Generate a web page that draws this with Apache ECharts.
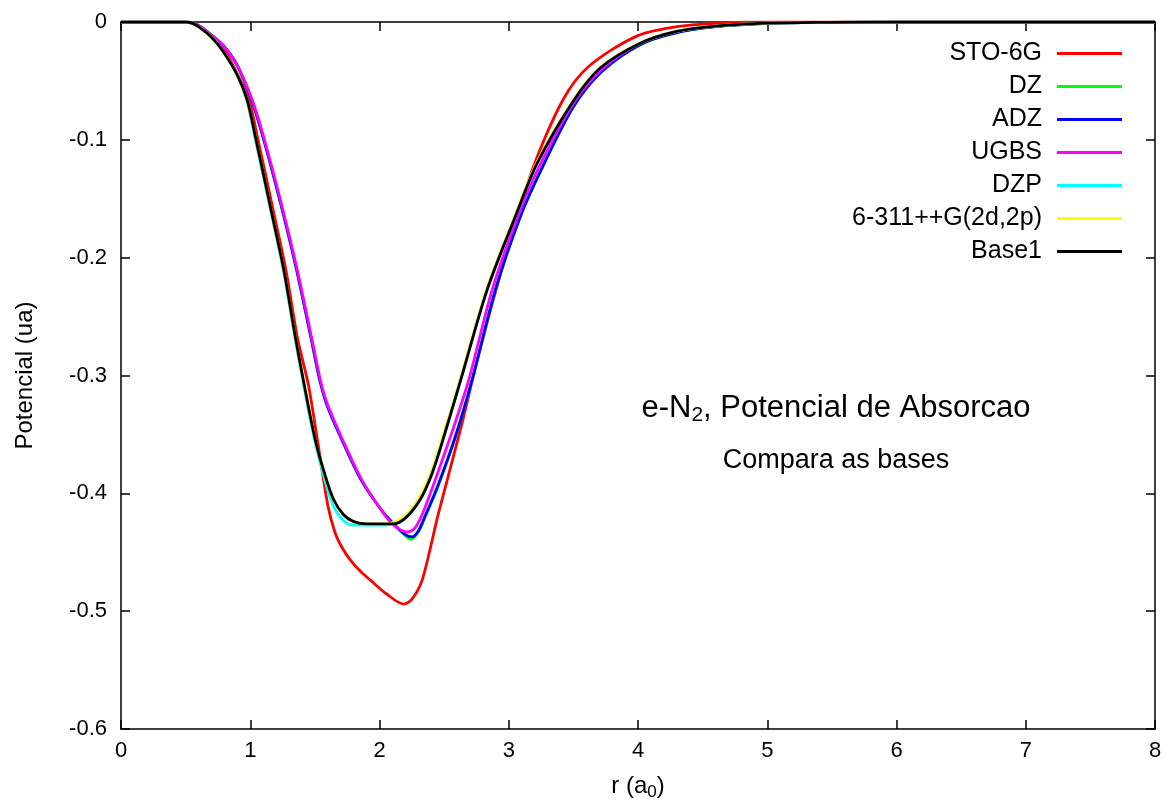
<!DOCTYPE html>
<html>
<head>
<meta charset="utf-8">
<script src="https://cdn.jsdelivr.net/npm/echarts@6/dist/echarts.min.js"></script>
<style>
html,body{margin:0;padding:0;background:#fff;}
#chart{width:1165px;height:803px;}
</style>
</head>
<body>
<div id="chart"></div>
<script>
// ---- data (r in a0, potential in ua) ----
const seriesNames = ['STO-6G', 'DZ', 'ADZ', 'UGBS', 'DZP', '6-311++G(2d,2p)', 'Base1'];
const seriesColors = ['#ff0000', '#00ff00', '#0000ff', '#ff00ff', '#00ffff', '#ffff00', '#000000'];

const xTicks = [0, 1, 2, 3, 4, 5, 6, 7, 8];
const yTicks = [0, -0.1, -0.2, -0.3, -0.4, -0.5, -0.6];

const rSTO = [0, 0.3, 0.5, 0.55, 0.6, 0.7, 0.8, 0.9, 0.99, 1.06, 1.172, 1.275, 1.365, 1.45, 1.52, 1.6, 1.655, 1.71, 1.775, 1.85, 1.93, 2.05, 2.187, 2.25, 2.33, 2.456, 2.626, 2.75, 2.9, 3.05, 3.19, 3.42, 3.616, 3.99, 4.3, 4.6, 5.0, 8.0];
const vSTO = [0, 0, 0, -0.001, -0.003, -0.012, -0.024, -0.044, -0.066, -0.1, -0.157, -0.21, -0.268, -0.308, -0.355, -0.41, -0.433, -0.446, -0.4567, -0.466, -0.4737, -0.485, -0.494, -0.49, -0.4737, -0.417, -0.346, -0.29, -0.228, -0.172, -0.123, -0.066, -0.038, -0.012, -0.004, -0.0012, 0, 0];

const rDZ = [0, 0.3, 0.5, 0.55, 0.6, 0.7, 0.8, 0.9, 1.01, 1.105, 1.242, 1.358, 1.474, 1.538, 1.6, 1.732, 1.86, 2.0, 2.1, 2.2, 2.245, 2.3, 2.35, 2.45, 2.587, 2.716, 2.896, 3.09, 3.244, 3.5, 3.72, 4.02, 4.3, 4.6, 5.0, 5.5, 6.0, 8.0];
const vDZ = [0, 0, 0, -0.001, -0.003, -0.011, -0.021, -0.037, -0.066, -0.1, -0.157, -0.21, -0.27, -0.304, -0.327, -0.36, -0.389, -0.412, -0.425, -0.436, -0.439, -0.433, -0.421, -0.395, -0.352, -0.304, -0.2275, -0.165, -0.127, -0.072, -0.042, -0.019, -0.009, -0.004, -0.0012, -0.0003, 0, 0];

const rADZ = [0, 0.3, 0.5, 0.55, 0.6, 0.7, 0.8, 0.9, 1.01, 1.105, 1.242, 1.358, 1.474, 1.538, 1.6, 1.732, 1.86, 2.0, 2.1, 2.2, 2.252, 2.3, 2.35, 2.45, 2.587, 2.716, 2.896, 3.09, 3.244, 3.5, 3.72, 4.02, 4.3, 4.6, 5.0, 5.5, 6.0, 8.0];
const vADZ = [0, 0, 0, -0.001, -0.003, -0.011, -0.021, -0.037, -0.066, -0.1, -0.157, -0.21, -0.27, -0.304, -0.327, -0.36, -0.389, -0.412, -0.425, -0.435, -0.437, -0.432, -0.42, -0.394, -0.352, -0.304, -0.2275, -0.165, -0.127, -0.072, -0.042, -0.019, -0.009, -0.004, -0.0012, -0.0003, 0, 0];

const rUGBS = [0, 0.3, 0.5, 0.55, 0.6, 0.7, 0.8, 0.9, 1.015, 1.11, 1.247, 1.363, 1.479, 1.543, 1.6, 1.737, 1.865, 2.0, 2.1, 2.213, 2.27, 2.33, 2.42, 2.561, 2.69, 2.871, 3.07, 3.23, 3.5, 3.72, 4.02, 4.3, 4.6, 5.0, 5.5, 6.0, 8.0];
const vUGBS = [0, 0, 0, -0.001, -0.003, -0.011, -0.021, -0.037, -0.066, -0.1, -0.157, -0.21, -0.27, -0.304, -0.325, -0.36, -0.389, -0.412, -0.426, -0.4327, -0.43, -0.418, -0.392, -0.348, -0.304, -0.2275, -0.165, -0.124, -0.069, -0.04, -0.018, -0.008, -0.0035, -0.001, -0.0003, 0, 0];

const rDZP = [0, 0.3, 0.5, 0.55, 0.6, 0.7, 0.79, 0.9, 0.972, 1.04, 1.152, 1.255, 1.345, 1.425, 1.498, 1.575, 1.64, 1.72, 1.8, 1.9, 2.0, 2.1, 2.2, 2.316, 2.4, 2.47, 2.625, 2.832, 3.051, 3.219, 3.5, 3.708, 4.018, 4.3, 4.6, 5.0, 5.5, 6.0, 8.0];
const vDZP = [0, 0, 0, -0.001, -0.004, -0.013, -0.025, -0.045, -0.066, -0.1, -0.157, -0.21, -0.268, -0.315, -0.355, -0.388, -0.41, -0.423, -0.427, -0.427, -0.427, -0.426, -0.421, -0.405, -0.385, -0.362, -0.305, -0.2275, -0.165, -0.12, -0.067, -0.039, -0.018, -0.008, -0.0035, -0.001, -0.0003, 0, 0];

const r6311 = [0, 0.3, 0.5, 0.55, 0.6, 0.7, 0.79, 0.9, 0.976, 1.045, 1.156, 1.259, 1.35, 1.43, 1.504, 1.58, 1.644, 1.72, 1.8, 1.9, 2.0, 2.1, 2.2, 2.31, 2.395, 2.465, 2.62, 2.826, 3.045, 3.213, 3.495, 3.703, 4.013, 4.3, 4.6, 5.0, 5.5, 6.0, 8.0];
const v6311 = [0, 0, 0, -0.001, -0.004, -0.013, -0.025, -0.045, -0.066, -0.1, -0.157, -0.21, -0.268, -0.315, -0.355, -0.385, -0.405, -0.418, -0.424, -0.426, -0.426, -0.425, -0.419, -0.403, -0.383, -0.36, -0.305, -0.2275, -0.165, -0.12, -0.067, -0.039, -0.018, -0.008, -0.0035, -0.001, -0.0003, 0, 0];

const rBase1 = [0, 0.3, 0.5, 0.55, 0.6, 0.7, 0.79, 0.9, 0.976, 1.045, 1.156, 1.259, 1.35, 1.43, 1.504, 1.58, 1.644, 1.72, 1.8, 1.9, 2.0, 2.1, 2.2, 2.316, 2.4, 2.47, 2.625, 2.832, 3.051, 3.219, 3.5, 3.708, 4.018, 4.3, 4.6, 5.0, 5.5, 6.0, 8.0];
const vBase1 = [0, 0, 0, -0.001, -0.004, -0.013, -0.025, -0.045, -0.066, -0.1, -0.157, -0.21, -0.268, -0.315, -0.355, -0.385, -0.405, -0.418, -0.424, -0.426, -0.426, -0.426, -0.421, -0.405, -0.385, -0.362, -0.305, -0.2275, -0.165, -0.12, -0.067, -0.039, -0.018, -0.008, -0.0035, -0.001, -0.0003, 0, 0];

const seriesR = [rSTO, rDZ, rADZ, rUGBS, rDZP, r6311, rBase1];
const seriesV = [vSTO, vDZ, vADZ, vUGBS, vDZP, v6311, vBase1];

// ---- chart ----
const FONT = '"Liberation Sans", Arial, Helvetica, sans-serif';
const chart = echarts.init(document.getElementById('chart'), null, {renderer: 'canvas'});

function pairs(r, v) { return r.map((x, i) => [x, v[i]]); }

const series = seriesNames.map((name, k) => ({
  name: name,
  type: 'line',
  data: pairs(seriesR[k], seriesV[k]),
  smooth: 0.3,
  showSymbol: false,
  symbol: 'none',
  clip: true,
  lineStyle: {color: seriesColors[k], width: 2.8},
  itemStyle: {color: seriesColors[k]},
  emphasis: {disabled: true},
  z: 2 + k,
  animation: false
}));

const xMin = xTicks[0], xMax = xTicks[xTicks.length - 1];
const yMin = yTicks[yTicks.length - 1], yMax = yTicks[0];

const axisCommonX = {
  type: 'value', min: xMin, max: xMax, interval: 1,
  axisLine: {show: true, onZero: false, lineStyle: {color: '#000', width: 1.5}},
  axisTick: {show: true, inside: true, length: 9, lineStyle: {color: '#000', width: 1.5}},
  splitLine: {show: false}
};
const axisCommonY = {
  type: 'value', min: yMin, max: yMax, interval: 0.1,
  axisLine: {show: true, onZero: false, lineStyle: {color: '#000', width: 1.5}},
  axisTick: {show: true, inside: true, length: 9, lineStyle: {color: '#000', width: 1.5}},
  splitLine: {show: false}
};

chart.setOption({
  backgroundColor: '#ffffff',
  animation: false,
  grid: {left: 121, right: 10, top: 22, bottom: 74, containLabel: false, outerBoundsMode: 'none'},
  legend: {
    orient: 'vertical',
    right: 38,
    top: 36,
    align: 'right',
    icon: 'rect',
    itemWidth: 65,
    itemHeight: 3,
    itemGap: 8,
    selectedMode: false,
    textStyle: {fontFamily: FONT, fontSize: 25, color: '#000', lineHeight: 25, padding: [0, 10, 0, 0]},
    data: seriesNames
  },
  xAxis: [
    Object.assign({}, axisCommonX, {
      position: 'bottom',
      name: 'r (a{sub|0})',
      nameLocation: 'middle',
      nameGap: 43,
      nameTextStyle: {fontFamily: FONT, fontSize: 24, color: '#000',
        rich: {sub: {fontFamily: FONT, fontSize: 17, color: '#000', padding: [12, 0, 0, 0]}}},
      axisLabel: {show: true, margin: 11, fontFamily: FONT, fontSize: 22, color: '#000'}
    }),
    Object.assign({}, axisCommonX, {position: 'top', axisLabel: {show: false}})
  ],
  yAxis: [
    Object.assign({}, axisCommonY, {
      position: 'left',
      name: 'Potencial (ua)',
      nameLocation: 'middle',
      nameGap: 84,
      nameRotate: 90,
      nameTextStyle: {fontFamily: FONT, fontSize: 24, color: '#000'},
      axisLabel: {show: true, margin: 14, fontFamily: FONT, fontSize: 22, color: '#000',
        formatter: v => (Math.abs(v) < 1e-9 ? '0' : String(Math.round(v * 10) / 10))}
    }),
    Object.assign({}, axisCommonY, {position: 'right', axisLabel: {show: false}})
  ],
  graphic: [
    {
      type: 'text', x: 836, y: 408, z: 100,
      style: {
        text: 'e-N{sub|2}, Potencial de Absorcao',
        fill: '#000', font: '31px ' + FONT,
        align: 'center', verticalAlign: 'middle',
        rich: {sub: {fontSize: 21, fontFamily: FONT, fill: '#000', padding: [15, 0, 0, 0]}}
      }
    },
    {
      type: 'text', x: 836, y: 461, z: 100,
      style: {
        text: 'Compara as bases',
        fill: '#000', font: '27px ' + FONT,
        align: 'center', verticalAlign: 'middle'
      }
    }
  ],
  series: series
});
</script>
</body>
</html>
